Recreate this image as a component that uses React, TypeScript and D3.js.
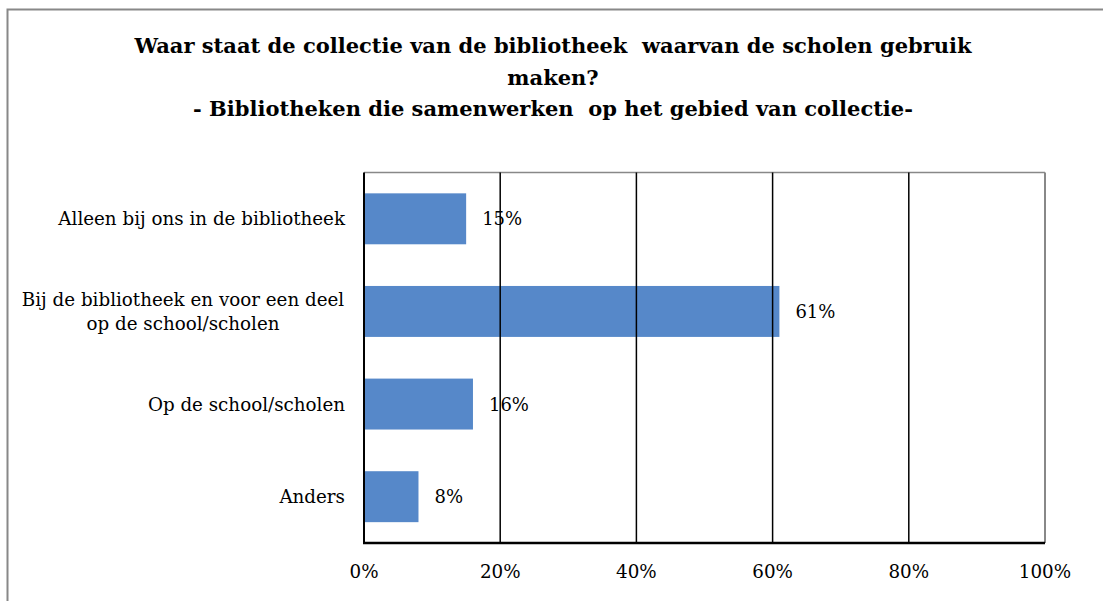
import React from "react";
import * as d3 from "d3";

const categories: string[][] = [
  ["Alleen bij ons in de bibliotheek"],
  ["Bij de bibliotheek en voor een deel", "op de school/scholen"],
  ["Op de school/scholen"],
  ["Anders"],
];
const values: number[] = [15, 61, 16, 8];
const ticks: number[] = [0, 20, 40, 60, 80, 100];
const titleLines: string[] = [
  "Waar staat de collectie van de bibliotheek  waarvan de scholen gebruik",
  "maken?",
  "- Bibliotheken die samenwerken  op het gebied van collectie-",
];

const W = 1103;
const H = 601;
const FONT = "'DejaVu Serif', serif";

export default function App() {
  const left = 364;
  const right = 1045;
  const top = 172.5;
  const bottom = 543;
  const x = d3.scaleLinear().domain([0, 100]).range([left, right]);
  const y = d3
    .scaleBand<number>()
    .domain(values.map((_, i) => i))
    .range([top, bottom])
    .paddingInner(0.45)
    .paddingOuter(0.225);

  return (
    <svg
      width={W}
      height={H}
      style={{ position: "absolute", left: 0, top: 0, display: "block" }}
      fontFamily={FONT}
    >
      <defs>
        <filter id="soft" x="-5%" y="-10%" width="110%" height="120%">
          <feGaussianBlur stdDeviation="0.6" />
        </filter>
      </defs>
      <rect x={0} y={0} width={W} height={H} fill="#fff" />
      <rect x={7.5} y={9.5} width={W + 10} height={H + 10} fill="none" stroke="#888" strokeWidth={2} />
      {titleLines.map((t, i) => (
        <text
          key={i}
          x={553}
          y={53 + i * 31.5}
          textAnchor="middle"
          fontSize={21}
          fontWeight="bold"
          style={{ whiteSpace: "pre" }}
        >
          {t}
        </text>
      ))}
      {/* plot frame */}
      <line x1={left} x2={right} y1={top} y2={top} stroke="#888" strokeWidth={1.5} />
      <line x1={right} x2={right} y1={top} y2={bottom} stroke="#888" strokeWidth={2} />
      {/* bars */}
      {values.map((v, i) => (
        <rect
          key={i}
          x={x(0)}
          y={y(i)!}
          width={x(v) - x(0)}
          height={y.bandwidth()}
          fill="#5688C9"
          filter="url(#soft)"
        />
      ))}
      {/* grid */}
      {ticks.slice(1, -1).map((t) => (
        <line key={t} x1={x(t)} x2={x(t)} y1={top} y2={bottom} stroke="#000" strokeWidth={1.5} />
      ))}
      <line x1={left} x2={left} y1={top} y2={bottom} stroke="#000" strokeWidth={2} />
      <line x1={left - 1} x2={right} y1={bottom} y2={bottom} stroke="#000" strokeWidth={2.5} />
      {/* value labels */}
      {values.map((v, i) => (
        <text
          key={i}
          x={x(v) + 16}
          y={y(i)! + y.bandwidth() / 2 + 6.5}
          fontSize={18}
        >
          {v}%
        </text>
      ))}
      {/* category labels */}
      {categories.map((lines, i) => {
        const cy = y(i)! + y.bandwidth() / 2;
        const lh = 24;
        const y0 = cy - ((lines.length - 1) * lh) / 2 + 6.5;
        return (
          <text key={i} x={345} y={y0} fontSize={18.3} textAnchor="end">
            {lines.map((l, j) => (
              <tspan key={j} x={lines.length > 1 ? 183 : 345} y={y0 + j * lh} textAnchor={lines.length > 1 ? "middle" : "end"}>
                {l}
              </tspan>
            ))}
          </text>
        );
      })}
      {/* tick labels */}
      {ticks.map((t) => (
        <text key={t} x={x(t)} y={578} fontSize={18.3} textAnchor="middle">
          {t}%
        </text>
      ))}
    </svg>
  );
}
